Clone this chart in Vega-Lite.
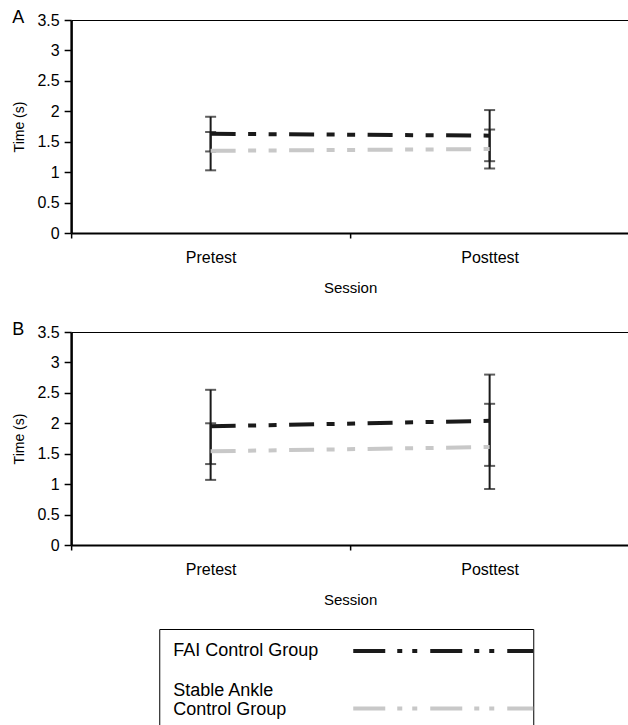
{
  "$schema": "https://vega.github.io/schema/vega-lite/v6.json",
  "padding": {"left": 12, "top": 9, "right": 0, "bottom": 0},
  "background": "white",
  "config": {
    "font": "Liberation Sans",
    "view": {"stroke": null},
    "axis": {"labelColor": "#000", "titleColor": "#000", "titleFontWeight": "normal", "domainColor": "#000", "tickColor": "#000", "labelFont": "Liberation Sans", "titleFont": "Liberation Sans"},
    "axisY": {"labelFontSize": 16, "labelPadding": 5, "tickSize": 7, "tickWidth": 1.5, "domainWidth": 2.5, "minExtent": 33, "maxExtent": 33, "titleFontSize": 14, "titlePadding": 12, "labelOverlap": false},
    "axisX": {"labelAngle": 0, "labelFontSize": 16, "labelPadding": 11, "tickSize": 5, "tickBand": "extent", "domainWidth": 2, "tickWidth": 1.5, "titleFontSize": 15, "titlePadding": 15}
  },
  "datasets": {
    "stats": [
      {"panel": "A", "session": "Pretest", "group": "FAI Control Group", "mean": 1.63, "lo": 1.34, "hi": 1.91},
      {"panel": "A", "session": "Pretest", "group": "Stable Ankle Control Group", "mean": 1.35, "lo": 1.03, "hi": 1.66},
      {"panel": "A", "session": "Posttest", "group": "FAI Control Group", "mean": 1.60, "lo": 1.18, "hi": 2.02},
      {"panel": "A", "session": "Posttest", "group": "Stable Ankle Control Group", "mean": 1.38, "lo": 1.06, "hi": 1.70},
      {"panel": "B", "session": "Pretest", "group": "FAI Control Group", "mean": 1.95, "lo": 1.33, "hi": 2.55},
      {"panel": "B", "session": "Pretest", "group": "Stable Ankle Control Group", "mean": 1.54, "lo": 1.07, "hi": 2.00},
      {"panel": "B", "session": "Posttest", "group": "FAI Control Group", "mean": 2.04, "lo": 1.30, "hi": 2.80},
      {"panel": "B", "session": "Posttest", "group": "Stable Ankle Control Group", "mean": 1.61, "lo": 0.92, "hi": 2.32}
    ],
    "legend": [
      {"group": "FAI Control Group", "col": "label", "text": "FAI Control Group"},
      {"group": "Stable Ankle Control Group", "col": "label", "text": "Stable Ankle\nControl Group"},
      {"group": "FAI Control Group", "col": "start"},
      {"group": "FAI Control Group", "col": "end"},
      {"group": "Stable Ankle Control Group", "col": "start"},
      {"group": "Stable Ankle Control Group", "col": "end"}
    ]
  },
  "spacing": 21,
  "center": true,
  "vconcat": [
    {
      "spacing": 26,
      "vconcat": [
        {
          "width": 558, "height": 213,
          "title": {"text": "A", "anchor": "start", "frame": "bounds", "orient": "top", "offset": -12, "dy": 17, "baseline": "alphabetic", "fontSize": 18, "fontWeight": "normal", "color": "#000", "font": "Liberation Sans"},
          "data": {"name": "stats"},
          "transform": [{"filter": "datum.panel === 'A'"}],
          "encoding": {
            "x": {"field": "session", "type": "nominal", "sort": ["Pretest", "Posttest"], "title": "Session",
              "scale": {"paddingInner": 0, "paddingOuter": 0}}
          },
          "layer": [
            {"mark": {"type": "rule", "strokeWidth": 2, "color": "#1a1a1a"},
             "encoding": {
               "y": {"field": "lo", "type": "quantitative", "title": "Time (s)", "scale": {"domain": [0, 3.5], "nice": false},
                 "axis": {"values": [0, 0.5, 1, 1.5, 2, 2.5, 3, 3.5], "format": "~g", "grid": true, "gridWidth": 1, "gridColor": {"condition": {"test": "datum.value === 3.5", "value": "#000"}, "value": "transparent"}}},
               "y2": {"field": "hi"}
             }},
            {"mark": {"type": "tick", "orient": "horizontal", "thickness": 2, "size": 11, "color": "#1a1a1a"},
             "encoding": {"y": {"field": "lo", "type": "quantitative", "title": "Time (s)",
                 "axis": {"values": [0, 0.5, 1, 1.5, 2, 2.5, 3, 3.5], "format": "~g", "grid": true, "gridWidth": 1, "gridColor": {"condition": {"test": "datum.value === 3.5", "value": "#000"}, "value": "transparent"}}}}},
            {"mark": {"type": "tick", "orient": "horizontal", "thickness": 2, "size": 11, "color": "#1a1a1a"},
             "encoding": {"y": {"field": "hi", "type": "quantitative", "title": "Time (s)",
                 "axis": {"values": [0, 0.5, 1, 1.5, 2, 2.5, 3, 3.5], "format": "~g", "grid": true, "gridWidth": 1, "gridColor": {"condition": {"test": "datum.value === 3.5", "value": "#000"}, "value": "transparent"}}}}},
            {"mark": {"type": "line", "strokeWidth": 4, "strokeCap": "butt", "strokeDash": [25, 12.5, 8, 12.5, 8, 12.5]},
             "encoding": {
               "y": {"field": "mean", "type": "quantitative", "title": "Time (s)",
                 "axis": {"values": [0, 0.5, 1, 1.5, 2, 2.5, 3, 3.5], "format": "~g", "grid": true, "gridWidth": 1, "gridColor": {"condition": {"test": "datum.value === 3.5", "value": "#000"}, "value": "transparent"}}},
               "color": {"field": "group", "type": "nominal", "legend": null,
                 "scale": {"domain": ["FAI Control Group", "Stable Ankle Control Group"], "range": ["#1a1a1a", "#c8c8c8"]}}
             }}
          ]
        },
        {
          "width": 558, "height": 213,
          "title": {"text": "B", "anchor": "start", "frame": "bounds", "orient": "top", "offset": -12, "dy": 17, "baseline": "alphabetic", "fontSize": 18, "fontWeight": "normal", "color": "#000", "font": "Liberation Sans"},
          "data": {"name": "stats"},
          "transform": [{"filter": "datum.panel === 'B'"}],
          "encoding": {
            "x": {"field": "session", "type": "nominal", "sort": ["Pretest", "Posttest"], "title": "Session",
              "scale": {"paddingInner": 0, "paddingOuter": 0}}
          },
          "layer": [
            {"mark": {"type": "rule", "strokeWidth": 2, "color": "#1a1a1a"},
             "encoding": {
               "y": {"field": "lo", "type": "quantitative", "title": "Time (s)", "scale": {"domain": [0, 3.5], "nice": false},
                 "axis": {"values": [0, 0.5, 1, 1.5, 2, 2.5, 3, 3.5], "format": "~g", "grid": true, "gridWidth": 1, "gridColor": {"condition": {"test": "datum.value === 3.5", "value": "#000"}, "value": "transparent"}}},
               "y2": {"field": "hi"}
             }},
            {"mark": {"type": "tick", "orient": "horizontal", "thickness": 2, "size": 11, "color": "#1a1a1a"},
             "encoding": {"y": {"field": "lo", "type": "quantitative", "title": "Time (s)",
                 "axis": {"values": [0, 0.5, 1, 1.5, 2, 2.5, 3, 3.5], "format": "~g", "grid": true, "gridWidth": 1, "gridColor": {"condition": {"test": "datum.value === 3.5", "value": "#000"}, "value": "transparent"}}}}},
            {"mark": {"type": "tick", "orient": "horizontal", "thickness": 2, "size": 11, "color": "#1a1a1a"},
             "encoding": {"y": {"field": "hi", "type": "quantitative", "title": "Time (s)",
                 "axis": {"values": [0, 0.5, 1, 1.5, 2, 2.5, 3, 3.5], "format": "~g", "grid": true, "gridWidth": 1, "gridColor": {"condition": {"test": "datum.value === 3.5", "value": "#000"}, "value": "transparent"}}}}},
            {"mark": {"type": "line", "strokeWidth": 4, "strokeCap": "butt", "strokeDash": [25, 12.5, 8, 12.5, 8, 12.5]},
             "encoding": {
               "y": {"field": "mean", "type": "quantitative", "title": "Time (s)",
                 "axis": {"values": [0, 0.5, 1, 1.5, 2, 2.5, 3, 3.5], "format": "~g", "grid": true, "gridWidth": 1, "gridColor": {"condition": {"test": "datum.value === 3.5", "value": "#000"}, "value": "transparent"}}},
               "color": {"field": "group", "type": "nominal", "legend": null,
                 "scale": {"domain": ["FAI Control Group", "Stable Ankle Control Group"], "range": ["#1a1a1a", "#c8c8c8"]}}
             }}
          ]
        }
      ]
    },
    {
      "width": 374, "height": 97,
      "view": {"stroke": "#000", "strokeWidth": 1},
      "data": {"name": "legend"},
      "encoding": {
        "x": {"field": "col", "type": "nominal", "axis": null,
          "scale": {"type": "point", "padding": 0, "domain": ["label", "start", "end"], "range": [14, 374]}},
        "y": {"field": "group", "type": "nominal", "axis": null,
          "scale": {"type": "point", "padding": 0, "domain": ["FAI Control Group", "Stable Ankle Control Group"], "range": [22, 79.5]}}
      },
      "layer": [
        {"transform": [{"filter": "datum.col === 'label' && datum.group === 'FAI Control Group'"}],
         "mark": {"type": "text", "align": "left", "baseline": "middle", "fontSize": 18, "font": "Liberation Sans", "color": "#000"},
         "encoding": {"text": {"field": "text"}}},
        {"transform": [{"filter": "datum.col === 'label' && datum.group !== 'FAI Control Group'"}],
         "mark": {"type": "text", "align": "left", "baseline": "middle", "lineBreak": "\n", "lineHeight": 19, "dy": -17.5, "fontSize": 18, "font": "Liberation Sans", "color": "#000"},
         "encoding": {"text": {"field": "text"}}},
        {"transform": [{"filter": "datum.col !== 'label'"}],
         "mark": {"type": "line", "strokeWidth": 4, "strokeCap": "butt", "strokeDash": [32, 12, 5, 10, 5, 13]},
         "encoding": {
           "color": {"field": "group", "type": "nominal", "legend": null,
             "scale": {"domain": ["FAI Control Group", "Stable Ankle Control Group"], "range": ["#1a1a1a", "#c8c8c8"]}}
         }}
      ]
    }
  ]
}
